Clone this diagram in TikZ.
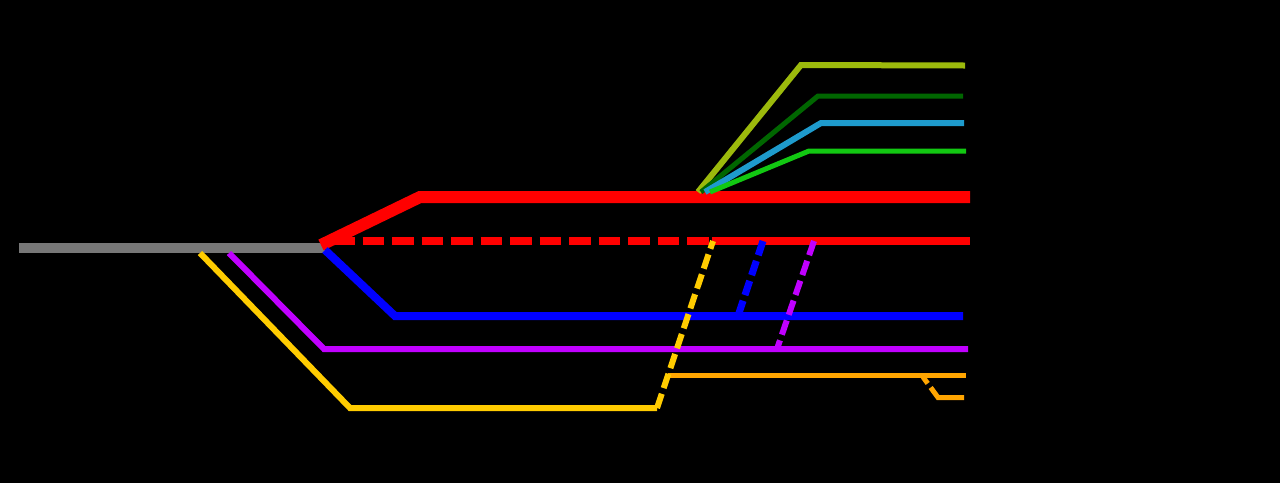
\documentclass[tikz,border=0pt]{standalone}
\usepackage{tikz}

\definecolor{trunkgray}{HTML}{777777}
\definecolor{olivegreen}{HTML}{9CBA0C}
\definecolor{darkgreen}{HTML}{006600}
\definecolor{skyblue}{HTML}{1E9BCD}
\definecolor{lightgreen}{HTML}{12C812}
\definecolor{violet}{HTML}{C000FF}
\definecolor{gold}{HTML}{FFCC00}
\definecolor{amber}{HTML}{FFA500}

\begin{document}
\begin{tikzpicture}[x=1pt, y=-1pt, line join=miter,
        spur/.style={dash pattern=on 15pt off 6pt}]
        \fill[black] (0, 0) rectangle (1280, 483);
        \useasboundingbox (0, 0) rectangle (1280, 483);

        % trunk and main lines
        \draw[trunkgray, line width=10pt] (19, 248) -- (325, 248);
        \draw[red, line width=8pt, dash pattern=on 21.5pt off 8pt] (333, 241) -- (715, 241);
        \draw[red, line width=12pt] (321, 245) -- (420, 197) -- (970, 197);
        \draw[red, line width=8pt] (712, 241) -- (970, 241);
        \draw[blue, line width=8pt] (325, 250) -- (395, 316) -- (963, 316);
        \draw[violet, line width=6pt] (229, 253) -- (324, 349) -- (968, 349);
        \draw[gold, line width=6pt] (200, 253) -- (350, 408) -- (657, 408);
        \draw[amber, line width=5pt] (668, 375.5) -- (966, 375.5);

        % branches off the red line
        \draw[olivegreen, line width=6pt] (698, 192) -- (801, 65) -- (965, 65.5);
        \draw[darkgreen, line width=5pt] (701, 192) -- (818, 96) -- (963, 96);
        \draw[skyblue, line width=6pt] (705, 192) -- (821, 123) -- (964, 123);
        \draw[lightgreen, line width=5pt] (710, 192) -- (809, 151) -- (966, 151);

        % dashed links
        \draw[gold, line width=6pt, spur] (657, 408) -- (713, 241);
        \draw[blue, line width=7pt, spur] (763, 241) -- (738, 316);
        \draw[violet, line width=6pt, spur] (814, 241) -- (777, 349);
        \draw[amber, line width=5pt, dash pattern=on 8pt off 5pt on 60pt] (923, 377) -- (938, 397.5) -- (964, 397.5);
\end{tikzpicture}
\end{document}
